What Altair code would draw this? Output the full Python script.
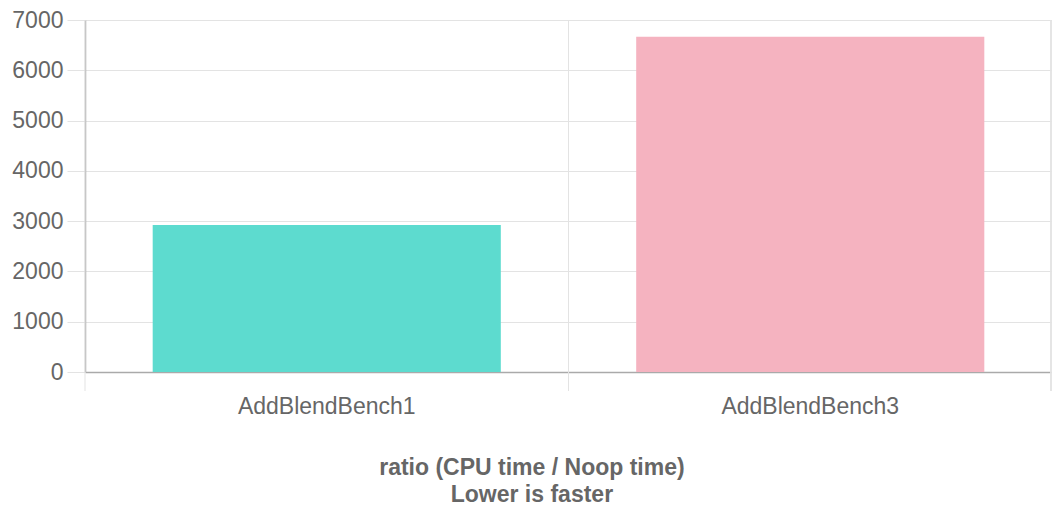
import altair as alt
import pandas as pd

categories = ["AddBlendBench1", "AddBlendBench3"]
values = [2924, 6667]
colors = ["#5DDBCF", "#F5B3C0"]
y_ticks = [0, 1000, 2000, 3000, 4000, 5000, 6000, 7000]

df = pd.DataFrame({"cat": categories, "val": values, "color": colors})

FONT = "Liberation Sans"
W, H = 967, 352

x_axis = alt.Axis(
    title=None, grid=False, ticks=False, tickSize=0, labelPadding=23,
    labelFont=FONT, labelFontSize=23, labelColor="#666666", labelAngle=0,
    domainColor="#aaaaaa", domainWidth=1.5,
)
x_scale = alt.Scale(domain=categories, paddingInner=0, paddingOuter=0)

bars = alt.Chart(df).mark_bar(width=alt.RelativeBandSize(0.72)).encode(
    x=alt.X("cat:N", scale=x_scale, axis=x_axis, sort=categories),
    y=alt.Y(
        "val:Q",
        scale=alt.Scale(domain=[0, 7000], nice=False),
        axis=alt.Axis(
            title=None, values=y_ticks, format="d", grid=True, gridColor="#e3e3e3",
            tickColor="#e3e3e3", tickSize=18, labelPadding=4,
            labelFont=FONT, labelFontSize=23, labelColor="#666666",
            domainColor="#aaaaaa", domainWidth=1.5,
        ),
    ),
    color=alt.Color("color:N", scale=None, legend=None),
)

vrules = alt.Chart(df).mark_rule(color="#e3e3e3", strokeWidth=1).encode(
    x=alt.X("cat:N", scale=x_scale, axis=x_axis, sort=categories, bandPosition=0),
    y=alt.value(0),
    y2=alt.value(H + 19),
)

right_rule = alt.Chart(df).mark_rule(color="#e3e3e3", strokeWidth=1.5).encode(
    x=alt.value(W - 1),
    y=alt.value(0),
    y2=alt.value(H + 19),
)

chart = alt.layer(vrules, right_rule, bars).properties(
    width=W,
    height=H,
    autosize=alt.AutoSizeParams(type="none"),
    padding={"left": 77, "top": 12, "right": 0, "bottom": 140},
    title=alt.TitleParams(
        text=["ratio (CPU time / Noop time)", "Lower is faster"],
        orient="bottom", anchor="middle", frame="bounds",
        font=FONT, fontSize=23, fontWeight="bold", color="#666666",
        lineHeight=27, offset=39,
    ),
).configure_view(stroke=None)

chart.save("out.html", embed_options={"renderer": "svg", "actions": False})
